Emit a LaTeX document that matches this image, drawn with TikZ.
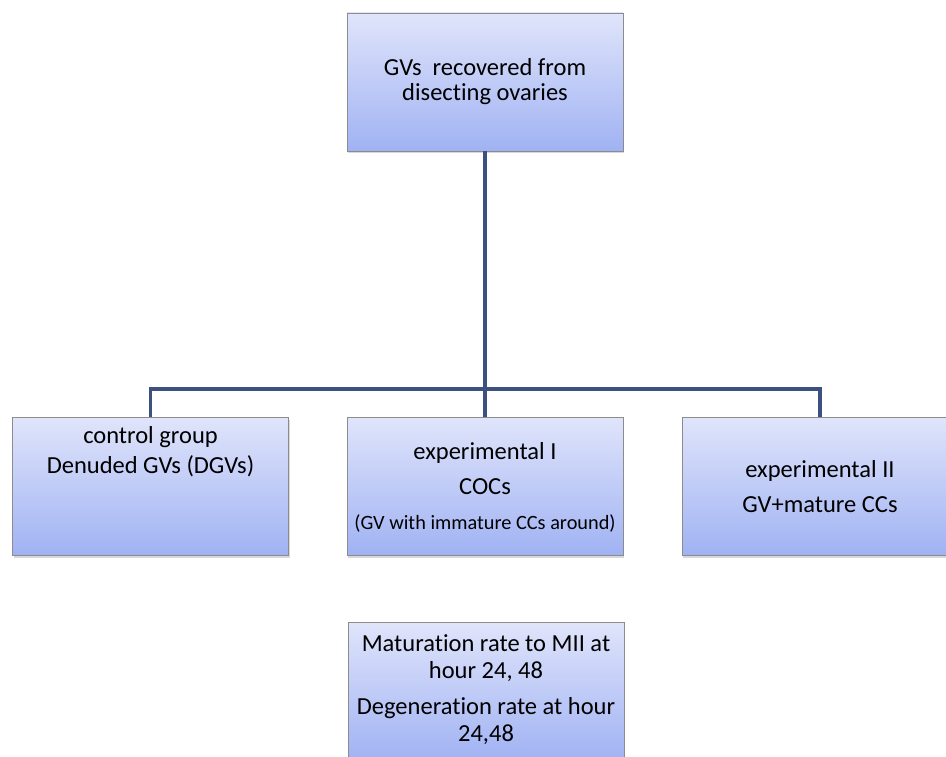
\documentclass[tikz,border=0pt]{standalone}
\usepackage{fontspec}
\setmainfont{Carlito}[Ligatures=NoCommon]
\usetikzlibrary{shadows}
\definecolor{boxtop}{RGB}{224,229,251}
\definecolor{boxbot}{RGB}{160,178,243}
\definecolor{boxline}{RGB}{140,140,140}
\definecolor{connline}{RGB}{61,81,128}
\tikzset{
  box/.style={draw=boxline, line width=0.8pt, top color=boxtop, bottom color=boxbot,
    minimum width=276pt, minimum height=138pt, inner sep=0pt,
    drop shadow={opacity=0.3, shadow xshift=1pt, shadow yshift=-2.5pt}},
  txt/.style={align=center, inner sep=0pt, text=black},
  conn/.style={draw=connline, line width=3.5pt}
}
\begin{document}
\begin{tikzpicture}[x=1pt,y=-1pt]
\useasboundingbox (0,0) rectangle (946,757);
\fill[white] (0,0) rectangle (946,757);
\clip (0,0) rectangle (946,757);
\coordinate (bus) at (485,389);
% boxes
\node[box] (top) at (485,82) {};
\node[box] (left) at (150.5,486) {};
\node[box] (mid) at (485,486) {};
\node[box] (right) at (820,486) {};
\node[box] (res) at (486,691) {};
% connectors
\draw[conn] (top.south) -- (mid.north);
\draw[conn] (left.north) |- (bus) -| (right.north);
% texts
\node[txt, font=\fontsize{24.5}{25}\selectfont] (toptxt) at (485,82)
  {GVs\ \ recovered from\\disecting ovaries};
\node[txt, font=\fontsize{24.5}{30}\selectfont] (lefttxt) at (150.5,452)
  {control group\\Denuded GVs (DGVs)};
\node[txt, font=\fontsize{24.5}{35}\selectfont] (midtxt) at (485,487)
  {experimental I\\COCs\\{\fontsize{20.3}{35}\selectfont (GV with immature CCs around)}};
\node[txt, font=\fontsize{24.5}{35}\selectfont] (righttxt) at (820,487)
  {experimental II\\GV+mature CCs};
\node[txt, font=\fontsize{24.5}{27}\selectfont] (restxt) at (486,690)
  {Maturation rate to MII at\\hour 24, 48\\[9pt]Degeneration rate at hour\\24,48};
\end{tikzpicture}
\end{document}
